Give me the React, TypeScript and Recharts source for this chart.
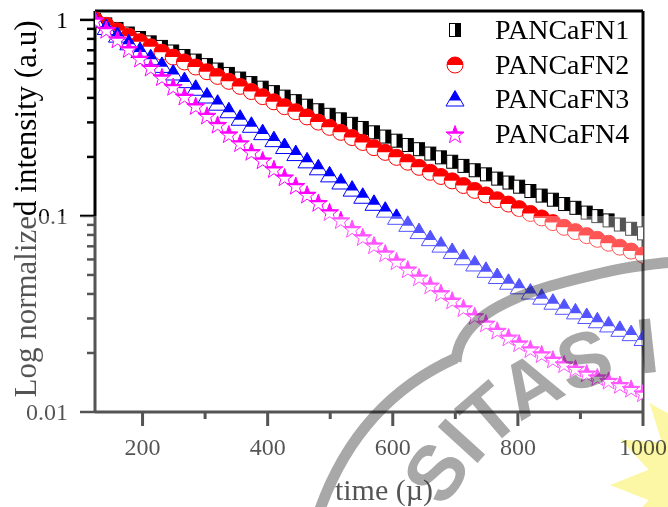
import { ScatterChart, Scatter, XAxis, YAxis, Legend, Label } from 'recharts'

// time axis (µs) and normalized decay intensities
const times = [
    124, 142, 160, 178, 196, 213, 231, 249, 267, 285,
    303, 320, 338, 356, 374, 392, 410, 427, 445, 463,
    481, 499, 517, 535, 552, 570, 588, 606, 624, 642,
    660, 677, 695, 713, 731, 749, 767, 785, 802, 820,
    838, 856, 874, 892, 910, 927, 945, 963, 981, 1000,
]

const pancafn1 = [
    1.0, 0.948, 0.899, 0.852, 0.808, 0.768, 0.728, 0.69, 0.654, 0.62,
    0.588, 0.558, 0.53, 0.502, 0.476, 0.451, 0.428, 0.406, 0.385, 0.365,
    0.346, 0.328, 0.311, 0.295, 0.281, 0.267, 0.254, 0.242, 0.23, 0.219,
    0.208, 0.199, 0.189, 0.18, 0.171, 0.163, 0.155, 0.148, 0.141, 0.134,
    0.127, 0.121, 0.115, 0.11, 0.104, 0.0998, 0.0949, 0.0904, 0.086, 0.0815,
]

const pancafn2 = [
    1.0, 0.938, 0.88, 0.826, 0.774, 0.729, 0.684, 0.646, 0.61, 0.575,
    0.544, 0.515, 0.486, 0.458, 0.431, 0.406, 0.382, 0.361, 0.34, 0.32,
    0.301, 0.283, 0.267, 0.251, 0.237, 0.223, 0.211, 0.199, 0.188, 0.177,
    0.167, 0.159, 0.151, 0.143, 0.135, 0.128, 0.121, 0.115, 0.109, 0.103,
    0.0977, 0.0925, 0.0875, 0.0832, 0.0794, 0.076, 0.0726, 0.0693, 0.0662, 0.0631,
]

const pancafn3 = [
    1.0, 0.914, 0.836, 0.764, 0.698, 0.641, 0.586, 0.536, 0.49, 0.448,
    0.409, 0.376, 0.344, 0.315, 0.29, 0.266, 0.245, 0.226, 0.208, 0.191,
    0.176, 0.162, 0.149, 0.137, 0.126, 0.116, 0.107, 0.0984, 0.0906, 0.0832,
    0.0766, 0.071, 0.0659, 0.0612, 0.0569, 0.0528, 0.0491, 0.0459, 0.0435, 0.0409,
    0.0385, 0.0363, 0.0342, 0.0324, 0.0307, 0.0292, 0.0278, 0.0264, 0.0251, 0.0237,
]

const pancafn4 = [
    1.0, 0.893, 0.798, 0.713, 0.637, 0.573, 0.512, 0.457, 0.408, 0.365,
    0.326, 0.293, 0.262, 0.236, 0.213, 0.193, 0.174, 0.158, 0.143, 0.129,
    0.117, 0.105, 0.0955, 0.0863, 0.0783, 0.0711, 0.0647, 0.0589, 0.0536, 0.0488,
    0.0444, 0.0406, 0.0372, 0.034, 0.031, 0.0284, 0.0261, 0.0241, 0.0225, 0.021,
    0.0198, 0.0186, 0.0176, 0.0167, 0.0158, 0.0151, 0.0145, 0.0138, 0.0132, 0.0125,
]

const seriesNames = ['PANCaFN1', 'PANCaFN2', 'PANCaFN3', 'PANCaFN4']
const seriesValues = [pancafn1, pancafn2, pancafn3, pancafn4]

const xTicks = [200, 300, 400, 500, 600, 700, 800, 900, 1000]
const xLabels = [200, 400, 600, 800, 1000]
const yTicks = [
    0.01, 0.02, 0.03, 0.04, 0.05, 0.06, 0.07, 0.08, 0.09,
    0.1, 0.2, 0.3, 0.4, 0.5, 0.6, 0.7, 0.8, 0.9, 1,
]
const yLabels = [0.01, 0.1, 1]

const SERIF = '"Liberation Serif", "Times New Roman", serif'

const drawSquare = (cx: number, cy: number) => (
    <g>
        <rect x={cx - 5.5} y={cy - 6.5} width={11} height={13} fill="#fff" stroke="#000" strokeWidth={1} />
        <rect x={cx} y={cy - 6.5} width={5.5} height={13} fill="#000" />
    </g>
)

const drawCircle = (cx: number, cy: number) => (
    <g>
        <circle cx={cx} cy={cy} r={8} fill="#fff" stroke="#ff0000" strokeWidth={1} />
        <circle cx={cx} cy={cy} r={8} fill="#ff0000" clipPath="url(#topHalf)" />
    </g>
)

const drawTriangle = (cx: number, cy: number) => {
    const pts = `${cx},${cy - 8.5} ${cx + 9},${cy + 7} ${cx - 9},${cy + 7}`
    return (
        <g>
            <polygon points={pts} fill="#fff" stroke="#0000ff" strokeWidth={1} />
            <polygon points={pts} fill="#0000ff" clipPath="url(#triTop)" />
        </g>
    )
}

const starPoints = (cx: number, cy: number) => {
    const out: string[] = []
    for (let k = 0; k < 10; k++) {
        const r = k % 2 === 0 ? 9.5 : 3.9
        const a = -Math.PI / 2 + (k * Math.PI) / 5
        out.push(`${cx + r * Math.cos(a)},${cy + 1 + r * Math.sin(a)}`)
    }
    return out.join(' ')
}

const drawStar = (cx: number, cy: number) => {
    const pts = starPoints(cx, cy)
    return (
        <g>
            <polygon points={pts} fill="#fff" stroke="#ff00ff" strokeWidth={1} />
            <polygon points={pts} fill="#ff00ff" clipPath="url(#starTop)" />
        </g>
    )
}

const markers = [drawSquare, drawCircle, drawTriangle, drawStar]

function XTick({ x, y, payload }: any) {
    const major = xLabels.includes(payload.value)
    return (
        <g>
            <line x1={x} x2={x} y1={y} y2={y + (major ? 14 : 7)} stroke="#000" strokeWidth={3} />
            {major && (
                <text x={x} y={y + 43} textAnchor="middle" fontSize={24} fontFamily={SERIF} fill="#000">
                    {payload.value}
                </text>
            )}
        </g>
    )
}

function YTick({ x, y, payload }: any) {
    const major = yLabels.includes(payload.value)
    return (
        <g>
            <line x1={x} x2={x - (major ? 15 : 8)} y1={y} y2={y} stroke="#000" strokeWidth={2.5} />
            {major && (
                <text x={x - 27} y={y + 8} textAnchor="end" fontSize={24} fontFamily={SERIF} fill="#000">
                    {payload.value}
                </text>
            )}
        </g>
    )
}

function LegendBox() {
    return (
        <div style={{ display: 'flex', flexDirection: 'column' }}>
            {seriesNames.map((name, i) => (
                <div key={name} style={{ display: 'flex', alignItems: 'center', height: 34.5 }}>
                    <svg width={20} height={20} style={{ marginLeft: 5 }}>
                        {markers[i](10, 10)}
                    </svg>
                    <span style={{ marginLeft: 30, fontSize: 28, lineHeight: '28px', fontFamily: SERIF, color: '#000' }}>
                        {name}
                    </span>
                </div>
            ))}
        </div>
    )
}

const burst = () => {
    const out: string[] = []
    for (let k = 0; k < 28; k++) {
        const r = k % 2 === 0 ? 105 : 68
        const a = (k * Math.PI) / 14
        out.push(`${715 + r * Math.cos(a)},${485 + r * Math.sin(a)}`)
    }
    return out.join(' ')
}

export default function App() {
    return (
        <div style={{ position: 'absolute', left: 0, top: 0, width: 668, height: 507, background: '#fff' }}>
            <svg width={0} height={0} style={{ position: 'absolute' }}>
                <defs>
                    <clipPath id="topHalf" clipPathUnits="objectBoundingBox">
                        <rect x={0} y={0} width={1} height={0.5} />
                    </clipPath>
                    <clipPath id="triTop" clipPathUnits="objectBoundingBox">
                        <rect x={0} y={0} width={1} height={0.64} />
                    </clipPath>
                    <clipPath id="starTop" clipPathUnits="objectBoundingBox">
                        <rect x={0} y={0} width={1} height={0.48} />
                    </clipPath>
                </defs>
            </svg>
            <ScatterChart width={668} height={507} margin={{ top: 10, right: 24, bottom: 35, left: 35 }}>
                <XAxis
                    dataKey="t"
                    type="number"
                    domain={[124, 1000]}
                    ticks={xTicks}
                    interval={0}
                    allowDataOverflow
                    height={60}
                    tickSize={0}
                    tickMargin={0}
                    tick={(p: any) => <XTick {...p} />}
                    axisLine={{ stroke: '#000', strokeWidth: 3 }}
                >
                    <Label
                        content={(p: any) => {
                            const vb = p.viewBox
                            return (
                                <text x={vb.x + vb.width / 2 + 15} y={500} textAnchor="middle" fontSize={30} fontFamily={SERIF} fill="#000">
                                    time (µ)
                                </text>
                            )
                        }}
                    />
                </XAxis>
                <XAxis
                    xAxisId="top"
                    orientation="top"
                    type="number"
                    domain={[124, 1000]}
                    height={1}
                    tick={false}
                    tickLine={false}
                    axisLine={{ stroke: '#000', strokeWidth: 3 }}
                />
                <YAxis
                    dataKey="v"
                    type="number"
                    scale="log"
                    domain={[0.01, 1.11]}
                    ticks={yTicks}
                    interval={0}
                    allowDataOverflow
                    width={60}
                    tickSize={0}
                    tickMargin={0}
                    tick={(p: any) => <YTick {...p} />}
                    axisLine={{ stroke: '#000', strokeWidth: 3 }}
                >
                    <Label
                        content={() => (
                            <text
                                x={25}
                                y={209}
                                transform="rotate(-90 25 209)"
                                textAnchor="middle"
                                dominantBaseline="central"
                                fontSize={31}
                                fontFamily={SERIF}
                                fill="#000"
                            >
                                Log normalized intensity (a.u)
                            </text>
                        )}
                    />
                </YAxis>
                <YAxis
                    yAxisId="right"
                    orientation="right"
                    type="number"
                    scale="log"
                    domain={[0.01, 1.11]}
                    width={1}
                    tick={false}
                    tickLine={false}
                    axisLine={{ stroke: '#000', strokeWidth: 3 }}
                />
                <Legend
                    layout="vertical"
                    align="center"
                    verticalAlign="middle"
                    content={() => <LegendBox />}
                    wrapperStyle={{ top: 13, left: 440, width: 'auto', height: 'auto' }}
                />
                {seriesNames.map((name, i) => (
                    <Scatter
                        key={name}
                        name={name}
                        data={times.map((t, j) => ({ t, v: seriesValues[i][j] }))}
                        isAnimationActive={false}
                        shape={(p: any) => markers[i](p.cx, p.cy)}
                    />
                ))}
            </ScatterChart>
            <div
                style={{
                    position: 'absolute', left: 0, top: 216, width: 668, height: 291,
                    background: 'rgba(255,255,255,0.33)', pointerEvents: 'none',
                }}
            />
            <svg
                width={668}
                height={507}
                style={{ position: 'absolute', left: 0, top: 0, pointerEvents: 'none', mixBlendMode: 'multiply' }}
            >
                <defs>
                    <path id="sealArc" d="M 444.7 509.6 A 269 269 0 0 1 870.2 449.8" />
                </defs>
                <polygon points={burst()} fill="#fbf7a4" />
                <path d="M 318 515 C 340 450, 380 392, 456 358" fill="none" stroke="#a8a8a8" strokeWidth={11} />
                <path d="M 456 362 C 458 325, 495 300, 565 282 S 640 266, 690 260" fill="none" stroke="#a8a8a8" strokeWidth={11} />
                <text fontSize={78} fontWeight="bold" fontFamily='"Liberation Sans", Arial, sans-serif' fill="#a8a8a8">
                    <textPath href="#sealArc">SITAS I</textPath>
                </text>
            </svg>
        </div>
    )
}
